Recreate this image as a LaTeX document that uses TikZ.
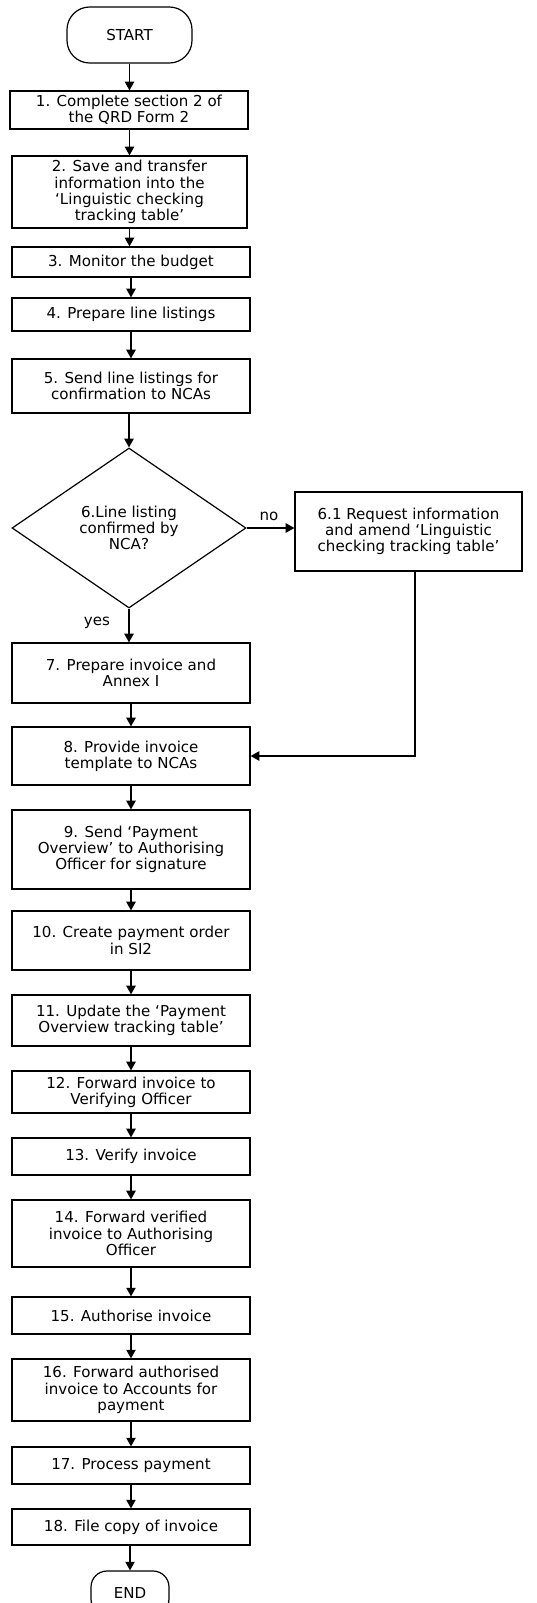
\documentclass[tikz,border=0pt]{standalone}
\usepackage{fontspec}
\setmainfont{DejaVu Sans}
\usetikzlibrary{shapes.geometric,arrows.meta}
\begin{document}
\begin{tikzpicture}[x=0.75pt,y=-0.75pt,
  every node/.style={font=\fontsize{11.3}{12.2}\selectfont, align=center, inner sep=0pt},
  stepbox/.style 2 args={draw, line width=0.9pt, rectangle, minimum width={#1*0.75pt}, minimum height={#2*0.75pt}},
  termbox/.style 2 args={draw, line width=0.9pt, rectangle, rounded corners=#2, minimum width={#1*0.75pt}, minimum height={42pt}},
  decbox/.style={draw, line width=0.9pt, diamond, aspect=1.4625, minimum width={234*0.75pt}, minimum height={160*0.75pt}},
  arr/.style={draw, line width=0.9pt, -{Triangle[length=6.5pt,width=7pt]}},
  lbl/.style={font=\fontsize{11.3}{12.2}\selectfont}
]
\useasboundingbox (0,0) rectangle (536,1603);

\node[termbox={125}{17pt}] (start) at (129.5,35) {START};
\node[stepbox={238}{38}] (b1) at (129,110) {1. Complete section 2 of\\the QRD Form 2};
\node[stepbox={235}{72}] (b2) at (129.5,192) {2. Save and transfer\\information into the\\‘Linguistic checking\\tracking table’};
\node[stepbox={238}{30}] (b3) at (131,262) {3. Monitor the budget};
\node[stepbox={238}{33}] (b4) at (131,314.5) {4. Prepare line listings};
\node[stepbox={238}{54}] (b5) at (131,386) {5. Send line listings for\\confirmation to NCAs};
\node[decbox] (d6) at (129,528) {6.Line listing\\confirmed by\\NCA?};
\node[stepbox={227}{79}] (b61) at (408.5,531.5) {6.1 Request information\\and amend ‘Linguistic\\checking tracking table’};
\node[stepbox={238}{60}] (b7) at (131,673) {7. Prepare invoice and\\Annex I};
\node[stepbox={238}{58}] (b8) at (131,756) {8. Provide invoice\\template to NCAs};
\node[stepbox={238}{79}] (b9) at (131,849.5) {9. Send ‘Payment\\Overview’ to Authorising\\Officer for signature};
\node[stepbox={238}{59}] (b10) at (131,940.5) {10. Create payment order\\in SI2};
\node[stepbox={238}{51}] (b11) at (131,1020.5) {11. Update the ‘Payment\\Overview tracking table’};
\node[stepbox={238}{42}] (b12) at (131,1092) {12. Forward invoice to\\Verifying Officer};
\node[stepbox={238}{37}] (b13) at (131,1156.5) {13. Verify invoice};
\node[stepbox={238}{67}] (b14) at (131,1233.5) {14. Forward verified\\invoice to Authorising\\Officer};
\node[stepbox={238}{37}] (b15) at (131,1315.5) {15. Authorise invoice};
\node[stepbox={238}{62}] (b16) at (131,1390) {16. Forward authorised\\invoice to Accounts for\\payment};
\node[stepbox={238}{37}] (b17) at (131,1465.5) {17. Process payment};
\node[stepbox={238}{36}] (b18) at (131,1527) {18. File copy of invoice};
\node[draw, line width=0.9pt, rectangle, rounded corners=12pt, minimum width={78*0.75pt}, minimum height={44*0.75pt}] (end) at (130,1593) {END};

\node[lbl] (lno) at (269,516) {no};
\node[lbl] (lyes) at (97,623) {yes};
\coordinate (r) at (415,0);

\draw[arr] (start.south) -- (start.south |- b1.north);
\draw[arr] (b1.south -| start) -- (b2.north -| start);
\draw[arr] (b2.south -| start) -- (b2.south |- b3.north);
\draw[arr] (b3) -- (b4);
\draw[arr] (b4) -- (b5);
\draw[arr] (b5.south -| d6) -- (d6.north);
\draw[arr] (d6.east) -- (d6.east -| b61.west);
\draw[arr] (d6.south) -- (d6.south |- b7.north);
\draw[arr] (b61.south -| r) |- (b8.east);
\draw[arr] (b7) -- (b8);
\draw[arr] (b8) -- (b9);
\draw[arr] (b9) -- (b10);
\draw[arr] (b10) -- (b11);
\draw[arr] (b11) -- (b12);
\draw[arr] (b12) -- (b13);
\draw[arr] (b13) -- (b14);
\draw[arr] (b14) -- (b15);
\draw[arr] (b15) -- (b16);
\draw[arr] (b16) -- (b17);
\draw[arr] (b17) -- (b18);
\draw[arr] (b18.south -| end) -- (end.north);
\end{tikzpicture}
\end{document}
